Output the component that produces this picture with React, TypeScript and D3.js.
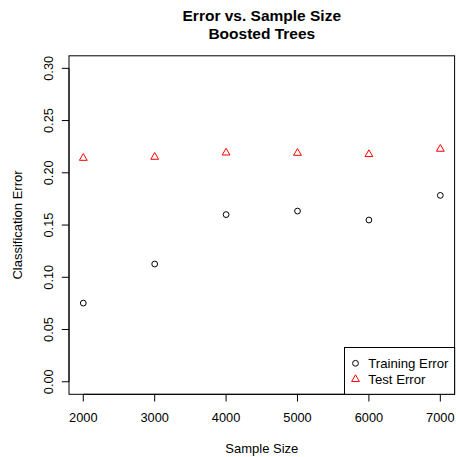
import React from "react";
import * as d3 from "d3";

const sampleSizes = [2000, 3000, 4000, 5000, 6000, 7000];
const trainingError = [0.0753, 0.1127, 0.16, 0.1634, 0.1548, 0.1784];
const testError = [0.2141, 0.2151, 0.2192, 0.2189, 0.2177, 0.2228];
const xTicks = [2000, 3000, 4000, 5000, 6000, 7000];
const yTicks = [0, 0.05, 0.1, 0.15, 0.2, 0.25, 0.3];
const legendLabels = ["Training Error", "Test Error"];

const W = 456;
const H = 457;
const FONT = "'Liberation Sans', Arial, Helvetica, sans-serif";

export default function App() {
  const left = 69;
  const right = 454.6;
  const top = 55.8;
  const bottom = 394.3;
  const x = d3.scaleLinear().domain([1800, 7200]).range([left, right]);
  const y = d3.scaleLinear().domain([-0.012, 0.312]).range([bottom, top]);

  const r = 2.9;
  const triY = 1.555 * r * 0.5;
  const triSize = triY * triY * 3 * Math.sqrt(3);
  const tri = d3.symbol().type(d3.symbolTriangle).size(triSize)() as string;

  const legX = 344.5;
  const legY = 347.5;

  return (
    <svg
      width={W}
      height={H}
      style={{ position: "absolute", left: 0, top: 0, background: "#fff" }}
      fontFamily={FONT}
    >
      <rect x={0} y={0} width={W} height={H} fill="#fff" />
      <text x={261.8} y={21.3} textAnchor="middle" fontSize={15.5} fontWeight="bold">
        Error vs. Sample Size
      </text>
      <text x={261.8} y={38.7} textAnchor="middle" fontSize={15.5} fontWeight="bold">
        Boosted Trees
      </text>

      {/* x axis */}
      <line x1={x(xTicks[0])} x2={x(xTicks[xTicks.length - 1])} y1={bottom} y2={bottom} stroke="#000" />
      {xTicks.map((t) => (
        <g key={t}>
          <line x1={x(t)} x2={x(t)} y1={bottom} y2={bottom + 7.2} stroke="#000" />
          <text x={x(t)} y={422.3} textAnchor="middle" fontSize={12.8}>
            {t}
          </text>
        </g>
      ))}
      {/* y axis */}
      <line x1={left} x2={left} y1={y(0)} y2={y(0.3)} stroke="#000" />
      {yTicks.map((t) => (
        <g key={t}>
          <line x1={left} x2={left - 7.2} y1={y(t)} y2={y(t)} stroke="#000" />
          <text
            transform={`translate(${52.8},${y(t)}) rotate(-90)`}
            textAnchor="middle"
            fontSize={12.8}
          >
            {d3.format(".2f")(t)}
          </text>
        </g>
      ))}

      <rect x={left} y={top} width={right - left} height={bottom - top} fill="none" stroke="#000" />

      <text x={261.8} y={453.3} textAnchor="middle" fontSize={13}>
        Sample Size
      </text>
      <text transform={`translate(${21.8},${225}) rotate(-90)`} textAnchor="middle" fontSize={13}>
        Classification Error
      </text>

      {/* points */}
      {sampleSizes.map((s, i) => (
        <circle key={"c" + s} cx={x(s)} cy={y(trainingError[i])} r={r} fill="none" stroke="#000" strokeWidth={1} />
      ))}
      {sampleSizes.map((s, i) => (
        <path
          key={"t" + s}
          d={tri}
          transform={`translate(${x(s)},${y(testError[i])})`}
          fill="none"
          stroke="#ff0000"
          strokeWidth={1}
        />
      ))}

      {/* legend */}
      <rect x={legX} y={legY} width={right - legX} height={bottom - legY} fill="#fff" stroke="#000" />
      <circle cx={355.5} cy={363.3} r={r} fill="none" stroke="#000" />
      <path d={tri} transform={`translate(${355.5},${379.3})`} fill="none" stroke="#ff0000" />
      <text x={368.3} y={367.8} fontSize={13.2}>
        {legendLabels[0]}
      </text>
      <text x={368.3} y={383.5} fontSize={13.2}>
        {legendLabels[1]}
      </text>
    </svg>
  );
}
